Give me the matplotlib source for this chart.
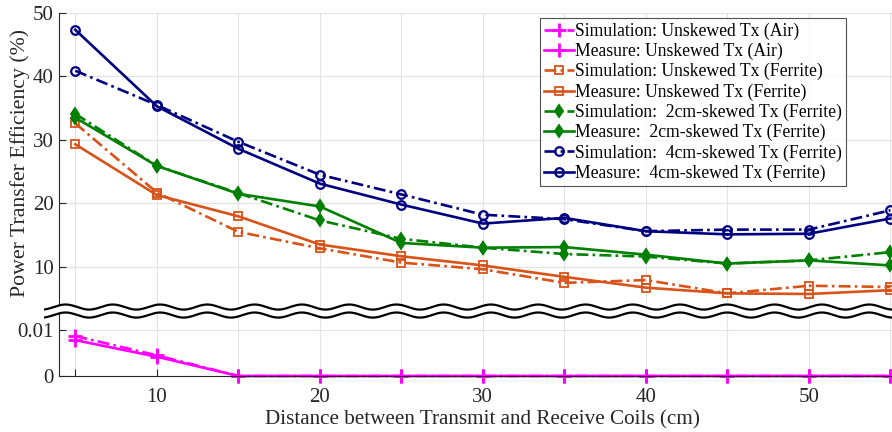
import numpy as np
import matplotlib
matplotlib.use("Agg")
import matplotlib.pyplot as plt

plt.rcParams['font.family'] = ['Liberation Serif', 'DejaVu Serif']

distance = [5, 10, 15, 20, 25, 30, 35, 40, 45, 50, 55]
sim_air = [0.0087, 0.0045, 0, 0, 0, 0, 0, 0, 0, 0, 0]
meas_air = [0.0078, 0.0042, 0, 0, 0, 0, 0, 0, 0, 0, 0]
sim_unsk = [32.6, 21.7, 15.5, 12.9, 10.65, 9.6, 7.45, 7.9, 5.8, 7.0, 6.8]
meas_unsk = [29.3, 21.3, 17.95, 13.5, 11.65, 10.2, 8.4, 6.7, 5.8, 5.7, 6.3]
sim_2cm = [34.1, 25.9, 21.6, 17.3, 14.4, 13.0, 12.0, 11.6, 10.5, 11.0, 12.3]
meas_2cm = [33.5, 25.9, 21.5, 19.5, 13.75, 13.0, 13.1, 11.9, 10.5, 11.0, 10.2]
sim_4cm = [40.9, 35.5, 29.7, 24.5, 21.4, 18.2, 17.5, 15.6, 15.85, 15.85, 18.9]
meas_4cm = [47.35, 35.3, 28.6, 23.1, 19.8, 16.8, 17.7, 15.6, 15.1, 15.2, 17.6]

ytick_vals = [0, 0.01, 10, 20, 30, 40, 50]
ytick_labels = ['0', '0.01', '10', '20', '30', '40', '50']
xtick_vals = [5, 10, 15, 20, 25, 30, 35, 40, 45, 50, 55]
xtick_labels = ['', '10', '', '20', '', '30', '', '40', '', '50', '']

labels = ['Simulation: Unskewed Tx (Air)', 'Measure: Unskewed Tx (Air)',
          'Simulation: Unskewed Tx (Ferrite)', 'Measure: Unskewed Tx (Ferrite)',
          'Simulation:  2cm-skewed Tx (Ferrite)', 'Measure:  2cm-skewed Tx (Ferrite)',
          'Simulation:  4cm-skewed Tx (Ferrite)', 'Measure:  4cm-skewed Tx (Ferrite)']

K = 724.0
B = 0.01


def fwd(v):
    v = np.asarray(v, dtype=float)
    return np.where(v <= B, (v - B) * K, v - B)


def inv(p):
    p = np.asarray(p, dtype=float)
    return np.where(p <= 0, p / K + B, p + B)


fig = plt.figure(figsize=(8.92, 4.32), dpi=100)
ax = fig.add_axes([59 / 892, 1 - 376 / 432, 1 - 59 / 892, (376 - 13) / 432])
ax.set_yscale('function', functions=(fwd, inv))

magenta = '#FF00FF'
orange = '#D95319'
green = '#008000'
navy = '#000080'
dashdot = (0, (4.5, 1.6, 1, 1.6))
lw = 1.9

ax.plot(distance, sim_air, color=magenta, ls=dashdot, lw=lw, marker='+', ms=10, mew=2,
        label=labels[0], clip_on=False)
ax.plot(distance, meas_air, color=magenta, ls='-', lw=lw, marker='+', ms=10, mew=2,
        label=labels[1], clip_on=False)
ax.plot(distance, sim_unsk, color=orange, ls=dashdot, lw=lw, marker='s', ms=6, mew=1.3, mfc='none', label=labels[2])
ax.plot(distance, meas_unsk, color=orange, ls='-', lw=lw, marker='s', ms=6, mew=1.3, mfc='none', label=labels[3])
ax.plot(distance, sim_2cm, color=green, ls=dashdot, lw=lw, marker='d', ms=6, mew=1.3, label=labels[4])
ax.plot(distance, meas_2cm, color=green, ls='-', lw=lw, marker='d', ms=6, mew=1.3, label=labels[5])
ax.plot(distance, sim_4cm, color=navy, ls=dashdot, lw=lw, marker='o', ms=6.2, mew=1.6, mfc='none', label=labels[6])
ax.plot(distance, meas_4cm, color=navy, ls='-', lw=lw, marker='o', ms=6.2, mew=1.6, mfc='none', label=labels[7])

ax.set_xlim(4, 55.1)
ax.set_ylim(0, 50)
ax.set_yticks(ytick_vals)
ax.set_yticklabels(ytick_labels)
ax.set_xticks(xtick_vals)
ax.set_xticklabels(xtick_labels)
ax.yaxis.set_minor_locator(matplotlib.ticker.NullLocator())
ax.grid(True, color='#e3e3e3', lw=0.8)
ax.set_axisbelow(True)
ax.tick_params(direction='in', length=5, width=0.8, colors='#262626', labelsize=15)
ax.tick_params(axis='x', pad=9)
ax.tick_params(axis='y', pad=4)
for s in ['top', 'right']:
    ax.spines[s].set_visible(False)
for s in ['left', 'bottom']:
    ax.spines[s].set_color('#262626')
    ax.spines[s].set_linewidth(0.8)

ax.set_ylabel('Power Transfer Efficiency (%)', fontsize=15.7, color='#262626')
ax.set_xlabel('Distance between Transmit and Receive Coils (cm)', fontsize=15.2, color='#262626')
ax.yaxis.set_label_coords(-0.035, 0.587)
ax.xaxis.set_label_coords(0.508, -0.095)

# axis-break waves
xw = np.linspace(3.15, 55.6, 800)
amp = 0.4
per = 2.9
wave = amp * np.sin(2 * np.pi * (xw - 7.3) / per - np.pi / 2) * -1
lo = 2.38 + wave
hi = 3.64 + wave
ax.fill_between(xw, lo, hi, color='white', zorder=5, clip_on=False, lw=0)
ax.plot(xw, lo, color='black', lw=1.6, zorder=6, clip_on=False)
ax.plot(xw, hi, color='black', lw=1.6, zorder=6, clip_on=False)

leg = ax.legend(loc='upper right', bbox_to_anchor=(0.945, 0.986), borderaxespad=0,
                fontsize=12.7, frameon=True, fancybox=False, handlelength=1.7,
                handletextpad=0.05, labelspacing=0.17, borderpad=0.25)
leg.get_frame().set_edgecolor('#262626')
leg.get_frame().set_linewidth(0.8)
leg.set_zorder(10)

fig.savefig('out.png', dpi=100)
